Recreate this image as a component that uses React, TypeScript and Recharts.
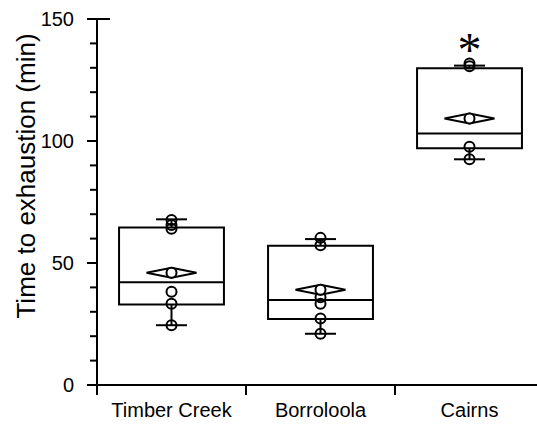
import React from "react";
import {
  ComposedChart, XAxis, YAxis, Scatter, ReferenceArea, ReferenceLine,
} from "recharts";

const groups = ["Timber Creek", "Borroloola", "Cairns"];
const groupCenters = [0.5, 1.5, 2.5];
const minVals = [24.5, 21, 92.5];
const q1Vals = [33, 27, 97];
const medianVals = [42.1, 34.8, 103.1];
const q3Vals = [64.5, 57.1, 129.8];
const maxVals = [67.9, 59.8, 130.9];
const meanVals = [46, 39, 109.2];

const timberCreekPoints = [67.6, 65.6, 64, 38.2, 33.3, 24.5];
const borroloolaPoints = [60.3, 57.3, 36, 33.3, 27.3, 21];
const cairnsPoints = [131.8, 130.6, 97.6, 92.5];

const yTicks = [0, 10, 20, 30, 40, 50, 60, 70, 80, 90, 100, 110, 120, 130, 140, 150];
const yLabels = [0, 50, 100, 150];
const xTicks = [0, 0.5, 1, 1.5, 2, 2.5];
const significantGroup = 2;
const starValue = 140.5;

const BOX_HALF = 0.352;
const CAP_HALF = 0.104;
const FONT = "'Liberation Sans', Arial, sans-serif";

const pointData = [timberCreekPoints, borroloolaPoints, cairnsPoints].flatMap((vals, i) =>
  vals.map((v) => ({ x: groupCenters[i], y: v }))
);
const meanData = meanVals.map((v, i) => ({ x: groupCenters[i], y: v }));
const starData = [{ x: groupCenters[significantGroup], y: starValue }];

const YTick = (props: any) => {
  const { x, y, payload } = props;
  const major = yLabels.includes(payload.value);
  return (
    <g>
      <line x1={x - (major ? 10 : 7)} x2={payload.value === 150 ? x + 13 : x} y1={y} y2={y} stroke="#000" strokeWidth={2} />
      {major && (
        <text x={x - 23} y={y} dy={7} textAnchor="end" fontSize={20} fontFamily={FONT} fill="#000">
          {payload.value}
        </text>
      )}
    </g>
  );
};

const XTick = (props: any) => {
  const { x, y, payload } = props;
  const v = payload.value;
  if (Number.isInteger(v)) {
    return <line x1={x} x2={x} y1={y} y2={y + 10} stroke="#000" strokeWidth={2} />;
  }
  return (
    <text x={x} y={y + 32} textAnchor="middle" fontSize={20} fontFamily={FONT} fill="#000">
      {groups[Math.floor(v)]}
    </text>
  );
};

const Circle = (props: any) => (
  <circle cx={props.cx} cy={props.cy} r={5} fill="none" stroke="#000" strokeWidth={2} />
);

const MeanMark = (props: any) => {
  const { cx, cy } = props;
  return (
    <g>
      <path
        d={`M${cx - 25},${cy} L${cx},${cy - 5} L${cx + 25},${cy} L${cx},${cy + 5} Z`}
        fill="none" stroke="#000" strokeWidth={2}
      />
      <circle cx={cx} cy={cy} r={5} fill="#fff" stroke="#000" strokeWidth={2} />
    </g>
  );
};

const Star = (props: any) => (
  <text x={props.cx} y={props.cy + 24} textAnchor="middle" fontSize={48} fontFamily="'Liberation Serif', serif" fill="#000">
    *
  </text>
);

export default function App() {
  return (
    <div style={{ position: "absolute", left: 0, top: 0, background: "#fff" }}>
      <ComposedChart width={537} height={429} margin={{ top: 19, right: 0, bottom: 0, left: 0 }}>
        <XAxis
          dataKey="x" type="number" domain={[0, 2.953]} allowDataOverflow
          ticks={xTicks} interval={0} tickSize={0} tickMargin={0} tick={<XTick />}
          tickLine={false} height={44} axisLine={{ stroke: "#000", strokeWidth: 2 }}
        />
        <YAxis
          type="number" domain={[0, 150]} ticks={yTicks} interval={0} width={97}
          tickSize={0} tickMargin={0} tick={<YTick />} tickLine={false}
          axisLine={{ stroke: "#000", strokeWidth: 2 }}
          label={{
            content: () => (
              <text x={0} y={0} transform="translate(35,176) rotate(-90)" textAnchor="middle" fontSize={26} fontFamily={FONT} fill="#000">
                Time to exhaustion (min)
              </text>
            ),
          }}
        />
        {groups.map((g, i) => (
          <ReferenceArea
            key={"box" + g} x1={groupCenters[i] - BOX_HALF} x2={groupCenters[i] + BOX_HALF}
            y1={q1Vals[i]} y2={q3Vals[i]} fill="none" fillOpacity={0} stroke="#000" strokeWidth={2} strokeOpacity={1}
          />
        ))}
        {groups.map((g, i) => (
          <ReferenceLine key={"med" + g} stroke="#000" strokeWidth={2}
            segment={[{ x: groupCenters[i] - BOX_HALF, y: medianVals[i] }, { x: groupCenters[i] + BOX_HALF, y: medianVals[i] }]} />
        ))}
        {groups.map((g, i) => (
          <ReferenceLine key={"wlo" + g} stroke="#000" strokeWidth={2}
            segment={[{ x: groupCenters[i], y: q1Vals[i] }, { x: groupCenters[i], y: minVals[i] }]} />
        ))}
        {groups.map((g, i) => (
          <ReferenceLine key={"whi" + g} stroke="#000" strokeWidth={2}
            segment={[{ x: groupCenters[i], y: q3Vals[i] }, { x: groupCenters[i], y: maxVals[i] }]} />
        ))}
        {groups.map((g, i) => (
          <ReferenceLine key={"clo" + g} stroke="#000" strokeWidth={2}
            segment={[{ x: groupCenters[i] - CAP_HALF, y: minVals[i] }, { x: groupCenters[i] + CAP_HALF, y: minVals[i] }]} />
        ))}
        {groups.map((g, i) => (
          <ReferenceLine key={"chi" + g} stroke="#000" strokeWidth={2}
            segment={[{ x: groupCenters[i] - CAP_HALF, y: maxVals[i] }, { x: groupCenters[i] + CAP_HALF, y: maxVals[i] }]} />
        ))}
        <Scatter data={pointData} dataKey="y" shape={<Circle />} isAnimationActive={false} />
        <Scatter data={meanData} dataKey="y" shape={<MeanMark />} isAnimationActive={false} />
        <Scatter data={starData} dataKey="y" shape={<Star />} isAnimationActive={false} />
      </ComposedChart>
    </div>
  );
}
